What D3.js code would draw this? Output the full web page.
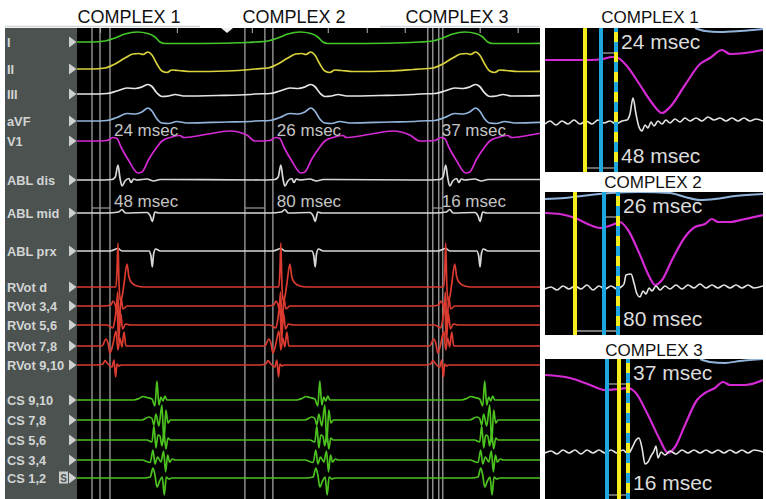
<!DOCTYPE html>
<html>
<head>
<meta charset="utf-8">
<script src="https://cdn.jsdelivr.net/npm/d3@7"></script>
<style>
  body { margin: 0; background: #fff; }
  svg { display: block; font-family: Arial, "Liberation Sans", sans-serif; }
</style>
</head>
<body>
<div id="chart"></div>
<script>
// ---- data (time in ms, amplitude in mm, 1 mm = 10 px on screen) ----
const channels = ["I", "II", "III", "aVF", "V1", "ABL dis", "ABL mid", "ABL prx",
  "RVot d", "RVot 3,4", "RVot 5,6", "RVot 7,8", "RVot 9,10",
  "CS 9,10", "CS 7,8", "CS 5,6", "CS 3,4", "CS 1,2"];
const channelOffset = [1.4, 4.1, 6.6, 9.3, 11.3, 15.2, 18.5, 22.3,
  25.9, 27.8, 29.7, 31.8, 33.7, 37.2, 39.2, 41.2, 43.2, 45.0];

const complexNames = ["COMPLEX 1", "COMPLEX 2", "COMPLEX 3"];
const onsets = [120, 609, 1104];
const cursorTimes = [45, 69, 99, 504, 564, 588, 1053, 1068, 1086, 1098];
const tickTimes = [69, 300, 525, 753, 870, 984, 1209, 1323];
const surfaceLabels = ["24 msec", "26 msec", "37 msec"];
const ablLabels = ["48 msec", "80 msec", "16 msec"];
const caliperStart = [45, 504, 1068];
const caliperEnd = [99, 564, 1098];

// beat templates: [ms from onset, amplitude]
const tplI = [[-75,0],[-36,0.1],[-6,0.4],[24,0.8],[60,1.0],[93,0.85],[114,0.5],[129,0],[144,-0.15],[255,-0.15],[390,-0.05]];
const tplII = [[-75,0],[-36,0.1],[-6,0.5],[24,1.1],[48,1.5],[66,1.55],[78,1.45],[93,1.7],[105,1.4],[120,0.5],[135,-0.2],[150,-0.35],[165,-0.1],[185,-0.15],[220,-0.25],[330,-0.2],[400,-0.05]];
const tplIII = [[-75,0],[-30,0.05],[0,0.3],[30,0.6],[55,0.55],[75,0.7],[93,0.95],[105,0.75],[120,0.1],[135,-0.25],[155,-0.2],[175,-0.05],[200,-0.2],[300,-0.15],[400,-0.05]];
const tplAVF = [[-75,0],[-30,0.05],[0,0.35],[30,0.75],[55,0.7],[75,0.9],[93,1.3],[105,1.0],[120,0.2],[135,-0.2],[155,-0.25],[180,-0.05],[210,-0.2],[330,-0.1],[400,-0.05]];
const tplV1 = [[-75,0],[-30,0.05],[-12,0.35],[0,0.25],[12,-0.6],[36,-2.0],[63,-3.2],[75,-3.1],[96,-1.8],[120,-0.6],[135,0],[165,0.4],[189,0.55],[200,0.35],[240,0.5],[300,0.85],[339,1.0],[390,0.6]];
const tplAblDis = [[-60,0],[-15,0.05],[-5,0.3],[3,1.5],[9,0.2],[15,-0.6],[24,-0.1],[36,0.15],[42,-0.25],[50,0.1],[60,0],[90,0.1],[110,-0.1],[130,0.05]];
const tplAblMid = [[-30,0],[5,0.1],[15,0.35],[25,0],[90,0.05],[100,-0.3],[106,-0.85],[114,0.1],[125,0]];
const tplAblPrx = [[-20,0],[3,0.25],[15,0],[96,0],[102,-0.5],[106,-1.6],[110,-0.3],[116,0.2],[130,0]];
const tplRvD = [[-20,0],[-3,0],[0,1.5],[3,4.4],[6,0.5],[10,-1.4],[15,-1.0],[21,0.3],[30,2.3],[36,1.0],[45,0.4],[60,0.1],[80,0]];
const tplRv34 = [[-40,0],[-18,0.1],[-12,0.5],[-6,0.2],[-2,-0.3],[2,1.4],[7,-2.2],[12,0.9],[18,-0.3],[30,0]];
const tplRv56 = [[-30,0],[-12,-0.3],[-6,0.6],[0,2.0],[5,-1.6],[11,1.2],[17,-0.4],[26,0.1],[40,0]];
const tplRv78 = [[-45,0],[-33,0.7],[-27,0.3],[-21,-0.7],[-12,0.2],[-3,1.5],[3,-0.4],[9,0.8],[15,-0.1],[21,1.4],[27,0],[40,0]];
const tplRv910 = [[-60,0],[-42,0.1],[-36,0.45],[-27,0.1],[-15,-0.2],[-9,0.5],[-4,-1.2],[0,0.1],[6,-0.1],[12,0]];
const tplCs910 = [[50,0],[66,0.15],[78,0.35],[90,0.25],[105,0.1],[114,-0.6],[120,1.9],[126,-0.5],[132,0.3],[138,-0.1],[144,0.4],[150,0],[160,0]];
const tplCs78 = [[75,0],[96,0.3],[105,0.15],[111,-0.5],[117,0.6],[126,-0.6],[135,1.5],[141,-2.2],[147,1.0],[153,-0.3],[160,0]];
const tplCs56 = [[90,0],[105,-0.2],[111,1.4],[117,-0.8],[123,0.5],[129,0.4],[135,-0.6],[141,0.7],[147,-0.9],[153,0.2],[160,0]];
const tplCs34 = [[75,0],[100,-0.25],[108,1.0],[114,-0.4],[122,0.3],[132,-0.2],[140,0.9],[146,-1.2],[152,0.5],[158,-0.2],[166,0.1],[175,0]];
const tplCs12 = [[80,0],[100,0.1],[108,1.0],[114,0.3],[120,-0.9],[128,-0.3],[136,0.1],[142,-1.7],[148,0.1],[156,-0.1],[165,0]];

// zoomed insets: [ms, level in mm from inset top]
const insetV1 = [
  [[0,3.2],[90,3.2],[116,3.1],[134,2.9],[146,3.0],[162,3.7],[190,5.7],[214,7.5],[234,8.5],[250,7.9],[280,5.7],[310,3.6],[330,3.0],[354,2.2],[370,2.6],[400,2.5],[436,2.2]],
  [[0,2.1],[30,2.2],[60,2.6],[90,3.3],[110,3.6],[134,3.3],[150,3.0],[166,3.8],[190,6.3],[210,8.6],[220,9.3],[234,8.8],[254,6.8],[280,4.5],[300,3.5],[320,3.2],[334,2.7],[346,3.0],[370,3.0],[400,2.7],[436,2.3]],
  [[0,1.6],[50,1.9],[90,2.6],[120,3.1],[146,3.0],[166,2.9],[180,3.3],[206,5.6],[230,8.1],[246,9.4],[260,8.8],[280,6.6],[304,4.1],[320,3.4],[340,2.9],[356,2.3],[370,2.6],[400,2.6],[436,2.1]]
];
const insetAbl = [
  [[0,9.6],[10,9.3],[22,9.7],[34,9.3],[46,9.6],[58,9.2],[70,9.6],[82,9.3],[94,9.6],[106,9.2],[118,9.5],[130,9.3],[142,9.6],[154,9.3],[164,9.2],[170,8.6],[176,7.0],[182,8.6],[188,9.9],[194,10.3],[200,9.7],[206,10.0],[212,9.4],[218,9.8],[226,9.3],[234,9.6],[242,9.2],[250,9.5],[260,9.1],[270,9.4],[280,9.0],[290,9.3],[302,9.0],[314,9.3],[326,8.9],[338,9.2],[350,9.0],[362,9.3],[374,9.0],[386,9.3],[398,9.0],[410,9.3],[422,9.1],[436,9.3]],
  [[0,9.7],[12,9.5],[24,9.8],[36,9.4],[48,9.7],[60,9.4],[72,9.7],[84,9.3],[96,9.8],[108,9.4],[120,9.7],[132,9.4],[144,9.7],[152,9.5],[158,9.2],[162,8.3],[172,8.2],[178,9.1],[184,10.2],[190,10.5],[196,9.9],[202,10.2],[208,9.6],[214,9.9],[222,9.4],[230,9.8],[240,9.4],[250,9.7],[262,9.3],[274,9.7],[286,9.3],[298,9.6],[310,9.2],[322,9.6],[334,9.3],[346,9.6],[358,9.3],[370,9.6],[382,9.3],[394,9.6],[406,9.3],[418,9.6],[436,9.4]],
  [[0,9.4],[12,9.2],[24,9.5],[36,9.1],[48,9.4],[60,9.1],[72,9.5],[84,9.1],[96,9.4],[108,9.1],[120,9.4],[132,9.1],[144,9.4],[156,9.1],[166,9.5],[174,8.9],[182,8.1],[188,7.9],[194,8.9],[200,10.5],[206,10.3],[212,9.7],[218,9.2],[222,8.7],[226,9.9],[232,9.3],[240,9.6],[250,9.2],[262,9.5],[274,9.1],[286,9.4],[298,9.1],[310,9.4],[322,9.1],[334,9.4],[346,9.1],[358,9.4],[370,9.1],[382,9.4],[394,9.1],[406,9.4],[418,9.1],[436,9.3]]
];
const insetAvf = [
  [[300,0],[320,0.3],[350,0.4],[390,0.3],[436,0.1]],
  [[0,0.7],[40,0.6],[90,0.3],[130,0.1],[190,0.0],[250,0.1],[280,0.5],[310,0.8],[340,0.7],[380,0.4],[436,0.2]],
  [[310,0.0],[330,0.3],[360,0.4],[390,0.2],[436,0.0]]
];
const insetYellow = [80, 60, 148];
const insetBlue = [112, 118, 124];
const insetDashed = [142, 146, 166];

// ---- chart ----
const width = 766, height = 499;
const svg = d3.select("#chart").append("svg")
  .attr("width", width).attr("height", height);

const x = d3.scaleLinear().domain([0, 1390]).range([77, 540]);
const y = d3.scaleLinear().domain([0, 47.1]).range([28, 499]);

const templates = [tplI, tplII, tplIII, tplAVF, tplV1, tplAblDis, tplAblMid, tplAblPrx,
  tplRvD, tplRv34, tplRv56, tplRv78, tplRv910, tplCs910, tplCs78, tplCs56, tplCs34, tplCs12];
const colors = ["#45c72a", "#d9d23c", "#e6e6e6", "#92b5dc", "#d42ad4",
  "#d8d8d8", "#d8d8d8", "#d8d8d8",
  "#dc3b30", "#dc3b30", "#dc3b30", "#dc3b30", "#dc3b30",
  "#4cc21f", "#4cc21f", "#4cc21f", "#4cc21f", "#4cc21f"];

// top light strip
svg.append("line").attr("x1", 5).attr("x2", 200).attr("y1", 26.5).attr("y2", 26.5)
  .attr("stroke", "#cfd3d6").attr("stroke-width", 1.5);
svg.append("line").attr("x1", 380).attr("x2", 540).attr("y1", 26.5).attr("y2", 26.5)
  .attr("stroke", "#d3dbe3").attr("stroke-width", 1.5);

// label column + trace area
svg.append("rect").attr("x", 5).attr("y", 28).attr("width", 72).attr("height", 471).attr("fill", "#4c5250");
svg.append("rect").attr("x", 77).attr("y", 28).attr("width", 463).attr("height", 471).attr("fill", "#000");

svg.append("clipPath").attr("id", "clipMain").append("rect")
  .attr("x", 77).attr("y", 28).attr("width", 463).attr("height", 471);

const main = svg.append("g").attr("clip-path", "url(#clipMain)");

// cursor lines
main.selectAll(".cursor").data(cursorTimes).enter().append("line")
  .attr("x1", d => x(d)).attr("x2", d => x(d))
  .attr("y1", 28).attr("y2", 499)
  .attr("stroke", "#8c8c8c").attr("stroke-width", 1.5);

// top ticks
const tickAxis = main.append("g").attr("transform", "translate(0,28)")
  .call(d3.axisBottom(x).tickValues(tickTimes).tickSize(5).tickFormat(""));
tickAxis.select(".domain").remove();
tickAxis.selectAll("line").attr("stroke", "#9a9a9a").attr("stroke-width", 1.2);

// small marker
main.append("path").attr("d", "M221,28 L233,28 L227,33 Z").attr("fill", "#eee");

// traces
const line = d3.line()
  .x(d => x(d[0]))
  .y(d => d[1])
  .curve(d3.curveMonotoneX);

channels.forEach(function (name, i) {
  const tpl = templates[i];
  const base = channelOffset[i];
  var pts = [[-20, tpl[0][1]]];
  onsets.forEach(function (o) {
    tpl.forEach(function (p) { pts.push([o + p[0], p[1]]); });
  });
  pts.push([1500, tpl[tpl.length - 1][1]]);
  pts.sort((a, b) => a[0] - b[0]);
  main.append("path")
    .datum(pts.map(p => [p[0], y(base - p[1])]))
    .attr("d", line)
    .attr("fill", "none")
    .attr("stroke", colors[i])
    .attr("stroke-width", 1.7)
    .attr("stroke-linejoin", "round");
});

// caliper segments
main.selectAll(".cal").data(caliperStart).enter().append("line")
  .attr("x1", d => x(d)).attr("x2", (d, i) => x(caliperEnd[i]))
  .attr("y1", y(18.0)).attr("y2", y(18.0))
  .attr("stroke", "#9a9a9a").attr("stroke-width", 1.2);

// msec annotations
main.selectAll(".surf").data(surfaceLabels).enter().append("text")
  .attr("x", (d, i) => x(onsets[i]) - 3).attr("y", y(10.8))
  .attr("fill", "#c4c4c4").attr("font-size", 17).text(d => d);
main.selectAll(".abl").data(ablLabels).enter().append("text")
  .attr("x", (d, i) => x(onsets[i]) - 3).attr("y", y(17.9))
  .attr("fill", "#c4c4c4").attr("font-size", 17).text(d => d);

// channel labels
const labels = svg.append("g");
channels.forEach(function (name, i) {
  const cy = y(channelOffset[i]);
  labels.append("text").attr("x", 7).attr("y", cy + 4.8)
    .attr("fill", "#d2d5d5").attr("font-size", 12.8).attr("font-weight", "bold").text(name);
  labels.append("path")
    .attr("d", "M69," + (cy - 5.5) + " L76.5," + cy + " L69," + (cy + 5.5) + " Z")
    .attr("fill", "#cfd1d1");
});
const csY = y(channelOffset[17]);
labels.append("rect").attr("x", 59).attr("y", csY - 6.5).attr("width", 9).attr("height", 12).attr("fill", "#c9cccc");
labels.append("text").attr("x", 63.5).attr("y", csY + 3.5).attr("text-anchor", "middle")
  .attr("font-size", 10).attr("font-weight", "bold").attr("fill", "#4c5250").text("S");

// main titles
const titleX = [129, 294, 457];
svg.selectAll(".title").data(complexNames).enter().append("text")
  .attr("x", (d, i) => titleX[i]).attr("y", 23)
  .attr("text-anchor", "middle").attr("font-size", 18).attr("fill", "#111").text(d => d);

// ---- zoomed insets ----
const insetTop = [28, 192, 359];
const insetBottom = [172, 335, 499];
const insetTitleY = [23, 188, 356];
const insetTitleX = [650, 653, 654];
const xi = d3.scaleLinear().domain([0, 436]).range([545, 763]);

complexNames.forEach(function (name, k) {
  const top = insetTop[k], h = insetBottom[k] - top;
  const yi = d3.scaleLinear().domain([0, h / 10]).range([top, top + h]);
  const clipId = "clipInset" + k;
  svg.append("clipPath").attr("id", clipId).append("rect")
    .attr("x", 545).attr("y", top).attr("width", 218).attr("height", h);
  svg.append("rect").attr("x", 545).attr("y", top).attr("width", 218).attr("height", h).attr("fill", "#000");
  const g = svg.append("g").attr("clip-path", "url(#" + clipId + ")");
  const li = d3.line().x(d => xi(d[0])).y(d => yi(d[1])).curve(d3.curveMonotoneX);

  g.append("path").datum(insetAvf[k]).attr("d", li).attr("fill", "none")
    .attr("stroke", "#92b5dc").attr("stroke-width", 2);
  g.append("path").datum(insetV1[k]).attr("d", li).attr("fill", "none")
    .attr("stroke", "#d42ad4").attr("stroke-width", 2.2);
  g.append("path").datum(insetAbl[k]).attr("d", li).attr("fill", "none")
    .attr("stroke", "#e4e4e4").attr("stroke-width", 1.6);

  // calipers
  g.append("line").attr("x1", xi(insetBlue[k])).attr("x2", xi(insetDashed[k]))
    .attr("y1", yi(2.5)).attr("y2", yi(2.5)).attr("stroke", "#a0a0a0").attr("stroke-width", 1.3);
  g.append("line").attr("x1", xi(Math.min(insetYellow[k], insetBlue[k]))).attr("x2", xi(insetDashed[k]))
    .attr("y1", yi(h / 10 - 0.4)).attr("y2", yi(h / 10 - 0.4)).attr("stroke", "#a0a0a0").attr("stroke-width", 1.3);

  // cursors
  g.append("line").attr("x1", xi(insetYellow[k])).attr("x2", xi(insetYellow[k]))
    .attr("y1", top).attr("y2", top + h).attr("stroke", "#f4ec1c").attr("stroke-width", 4);
  g.append("line").attr("x1", xi(insetBlue[k])).attr("x2", xi(insetBlue[k]))
    .attr("y1", top).attr("y2", top + h).attr("stroke", "#1ea6de").attr("stroke-width", 4);
  g.append("line").attr("x1", xi(insetDashed[k])).attr("x2", xi(insetDashed[k]))
    .attr("y1", top).attr("y2", top + h).attr("stroke", "#1ea6de").attr("stroke-width", 4);
  g.append("line").attr("x1", xi(insetDashed[k])).attr("x2", xi(insetDashed[k]))
    .attr("y1", top + 4).attr("y2", top + h).attr("stroke", "#f4ec1c").attr("stroke-width", 4)
    .attr("stroke-dasharray", "10,10");

  // labels
  g.append("text").attr("x", xi(insetDashed[k]) + 5).attr("y", yi(2.1))
    .attr("font-size", 21).attr("fill", "#dcdcdc").text(surfaceLabels[k]);
  g.append("text").attr("x", xi(insetDashed[k]) + 5).attr("y", yi(h / 10 - 0.9))
    .attr("font-size", 21).attr("fill", "#dcdcdc").text(ablLabels[k]);

  svg.append("text").attr("x", insetTitleX[k]).attr("y", insetTitleY[k])
    .attr("text-anchor", "middle").attr("font-size", 17).attr("fill", "#111").text(name);
});
</script>
</body>
</html>
